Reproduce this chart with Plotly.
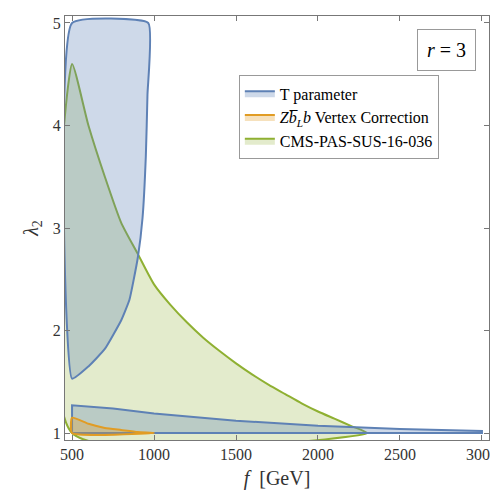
import plotly.graph_objects as go

# T parameter, upper branch (x=500 edge up to lambda=5)
t_up_f = [500, 600, 700, 800, 850, 900, 930, 950, 960, 965]
t_up_l = [1.53, 1.65, 1.82, 2.1, 2.3, 2.7, 3.1, 3.7, 4.3, 5.0]
# T parameter, lower branch
t_lo_f = [500, 750, 1000, 1500, 2000, 2500, 3000]
t_lo_l = [1.27, 1.24, 1.19, 1.12, 1.07, 1.04, 1.02]
# Zbb vertex correction
z_f = [500, 600, 700, 800, 900, 1000]
z_l = [1.15, 1.09, 1.05, 1.03, 1.01, 1.0]
# CMS-PAS-SUS-16-036
c_f = [500, 600, 700, 800, 900, 1000, 1100, 1200, 1300, 1400, 1500, 1600,
       1700, 1800, 1900, 2000, 2100, 2200, 2300]
c_l = [4.6, 4.0, 3.5, 3.05, 2.75, 2.45, 2.25, 2.08, 1.93, 1.80, 1.68, 1.57,
       1.47, 1.38, 1.29, 1.21, 1.14, 1.07, 1.0]

blue, orange, green = "#5E81B5", "#E19C24", "#8FB032"
font = "Liberation Serif"

fig = go.Figure()

# green region
fig.add_trace(go.Scatter(x=[500] + c_f + [500], y=[1] + c_l + [1], fill="toself", mode="lines",
                         fillcolor="rgba(143,176,50,0.25)", line=dict(color=green, width=2, shape="spline", smoothing=0.6),
                         name="CMS-PAS-SUS-16-036", legendrank=3))
# blue upper
fig.add_trace(go.Scatter(x=t_up_f + [500, 500], y=t_up_l + [5, t_up_l[0]], fill="toself", mode="lines",
                         fillcolor="rgba(94,129,181,0.3)", line=dict(color=blue, width=2, shape="spline", smoothing=0.4),
                         name="T parameter", legendrank=1))
# blue lower
fig.add_trace(go.Scatter(x=[500] + t_lo_f + [3000, 500], y=[1] + t_lo_l + [1, 1], fill="toself", mode="lines",
                         fillcolor="rgba(94,129,181,0.3)", line=dict(color=blue, width=2),
                         showlegend=False))
# orange
fig.add_trace(go.Scatter(x=[500] + z_f + [500], y=[1] + z_l + [1], fill="toself", mode="lines",
                         fillcolor="rgba(225,156,36,0.3)", line=dict(color=orange, width=2, shape="spline", smoothing=0.5),
                         name="<i>Z</i><i>b̅</i><sub><i>L</i></sub><i>b</i> Vertex Correction",
                         legendrank=2))

fig.add_annotation(x=0.97, y=0.97, xref="paper", yref="paper", xanchor="right", yanchor="top",
                   text="<i>r</i> = 3", showarrow=False, font=dict(size=20, family=font, color="black"),
                   bordercolor="#999", borderwidth=1, borderpad=9, bgcolor="white")

axis = dict(showgrid=False, zeroline=False, mirror="ticks", ticks="inside", showline=True, automargin=False,
            linecolor="#777", tickcolor="#777", tickfont=dict(size=16, family=font, color="#333"))
fig.update_layout(
    width=498, height=500, plot_bgcolor="white", paper_bgcolor="white",
    margin=dict(l=57, r=17, t=8, b=68),
    xaxis=dict(axis, range=[457, 3043], tickvals=[500, 1000, 1500, 2000, 2500, 3000],
               title=dict(text="<i>f</i>  [GeV]", font=dict(size=20, family=font, color="#333"), standoff=8)),
    yaxis=dict(axis, range=[0.932, 5.068], tickvals=[1, 2, 3, 4, 5],
               title=dict(text="<i>λ</i><sub>2</sub>", font=dict(size=20, family=font, color="#333"),
                          standoff=8)),
    legend=dict(x=0.41, y=0.86, xanchor="left", yanchor="top", bgcolor="white",
                bordercolor="#999", borderwidth=1, font=dict(size=16, family=font, color="black"),
                tracegroupgap=10, itemwidth=30),
)

fig.write_html("out.html")
